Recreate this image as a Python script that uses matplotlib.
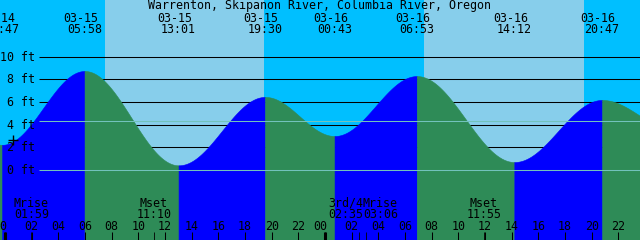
import numpy as np
import matplotlib
matplotlib.use('Agg')
import matplotlib.pyplot as plt

# tide extremes, hours from 03-15 00:00 (first and last are just off the chart)
ext_hours = [-5.2, -0.217, 5.967, 13.017, 19.5, 24.717, 30.883, 38.2, 44.783, 50.3]
ext_feet = [6.6, 2.2, 8.75, 0.38, 6.45, 2.98, 8.3, 0.67, 6.18, 3.5]
ext_dates = ['03-14', '03-14', '03-15', '03-15', '03-15', '03-16', '03-16', '03-16', '03-16', '03-17']
ext_times = ['17:50', '23:47', '05:58', '13:01', '19:30', '00:43', '06:53', '14:12', '20:47', '02:20']

# daylight spans (sunrise, sunset) in hours
day_spans = [(7.5, 19.43), (31.45, 43.45)]

# moon events
moon_hours = [1.983, 11.167, 26.583, 27.1, 35.917]
moon_names = ['Mrise', 'Mset', '3rd/4', 'Mrise', 'Mset']
moon_times = ['01:59', '11:10', '02:35', '03:06', '11:55']

depth_ft = [0, 2, 4, 6, 8, 10]
msl_ft = 4.34
title = 'Warrenton, Skipanon River, Columbia River, Oregon'

# pixel geometry of the picture
W, H = 640, 240
X0, PXH = 5.0, 13.333
Y0, PXF = 169.6, 11.27
xmin, xmax = -X0 / PXH, (W - X0) / PXH
ymin, ymax = (Y0 - H) / PXF, Y0 / PXF

def yp(p):
    return 1 - p / H

night = '#00bfff'
day = '#87ceeb'
rising = '#0000ff'
falling = '#2e8b57'
mslc = '#72c2bc'
mono = 'DejaVu Sans Mono'
fs = 8.4

fig = plt.figure(figsize=(6.4, 2.4), dpi=100)
ax = fig.add_axes([0, 0, 1, 1])
ax.set_xlim(xmin, xmax)
ax.set_ylim(ymin, ymax)
ax.axis('off')

# sky
ax.axvspan(xmin, xmax, color=night, zorder=0, lw=0)
for s, e in day_spans:
    ax.axvspan(s, e, color=day, zorder=0.5, lw=0)

# depth lines (behind water)
gx0 = (39 - X0) / PXH
ax.hlines(depth_ft, gx0, xmax, color='black', lw=0.75, zorder=1)

# water
for i in range(len(ext_hours) - 1):
    t0, t1 = ext_hours[i], ext_hours[i + 1]
    h0, h1 = ext_feet[i], ext_feet[i + 1]
    t = np.linspace(t0, t1, 200)
    lvl = h0 + (h1 - h0) * (1 - np.cos(np.pi * (t - t0) / (t1 - t0))) / 2
    c = rising if h1 > h0 else falling
    ax.fill_between(t, ymin, lvl, color=c, lw=0.4, edgecolor=c, zorder=2)

# datum and mean sea level lines
ax.hlines([0, msl_ft], gx0, xmax, color=mslc, lw=0.75, zorder=3)

xt = ax.get_xaxis_transform()

# small cross mark by the depth scale
ax.plot([(13.3 - X0) / PXH], [yp(140)], transform=xt, marker='+', ms=7.5,
        mew=1.0, color='black', zorder=5)

# depth labels
for f in depth_ft:
    ax.text((35 - X0) / PXH, yp(Y0 - f * PXF + 4), f'{f} ft', transform=xt,
            ha='right', va='baseline', family=mono, fontsize=fs, zorder=5)

# title and extreme labels
ax.text(0.5, yp(9.5), title, transform=ax.transAxes, ha='center', va='baseline',
        family=mono, fontsize=fs, zorder=5)
for h, d, tm in zip(ext_hours, ext_dates, ext_times):
    ax.annotate(d, (h, yp(21.7)), xycoords=xt, xytext=(-4, 0), textcoords='offset pixels',
                ha='center', va='baseline', family=mono, fontsize=fs, zorder=5)
    ax.text(h, yp(33.3), tm, transform=xt, ha='center', va='baseline',
            family=mono, fontsize=fs, zorder=5)

# moon labels, nudged apart where they collide
pos = list(moon_hours)
align = ['center'] * len(pos)
for i in range(len(pos) - 1):
    if (pos[i + 1] - pos[i]) * PXH < 35:
        mid = (pos[i] + pos[i + 1]) / 2
        pos[i], pos[i + 1] = mid, mid
        align[i], align[i + 1] = 'right', 'left'
for h, a, n, tm in zip(pos, align, moon_names, moon_times):
    ax.text(h, yp(206.7), n, transform=xt, ha=a, va='baseline', family=mono, fontsize=fs, zorder=5)
    ax.text(h, yp(217.7), tm, transform=xt, ha=a, va='baseline', family=mono, fontsize=fs, zorder=5)

# hour ticks and labels
hours = np.arange(0, 48, 2)
ax.vlines(hours, yp(240), yp(232), transform=xt, color='black', lw=0.75, zorder=5)
ax.vlines([0, 24], yp(240), yp(232), transform=xt, color='black', lw=2.2, zorder=5)
ax.vlines(moon_hours, yp(240), yp(232), transform=xt, color='black', lw=0.6, zorder=5)
for h in hours:
    dx = -5 if h % 24 == 0 else 0
    ax.annotate(f'{h % 24:02d}', (h, yp(230)), xycoords=xt, xytext=(dx, 0),
                textcoords='offset pixels', ha='center', va='baseline',
                family=mono, fontsize=fs, zorder=5)

fig.savefig('out.png', dpi=100)
